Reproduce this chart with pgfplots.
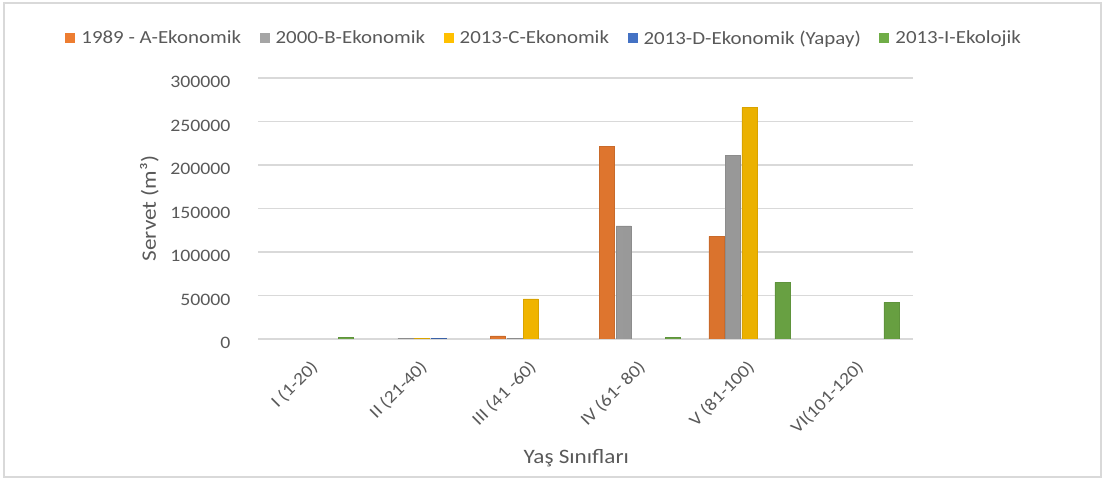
\documentclass[border=0pt]{standalone}
\usepackage{pgfplots}
\pgfplotsset{compat=1.18}
\usepackage{fontspec}
\setmainfont{Carlito}[FakeStretch=1.13]
\definecolor{txt}{HTML}{595959}
\definecolor{grd}{HTML}{D9D9D9}
\definecolor{cA}{HTML}{ED7D31}
\definecolor{cB}{HTML}{A5A5A5}
\definecolor{cC}{HTML}{FFC000}
\definecolor{cD}{HTML}{4472C4}
\definecolor{cE}{HTML}{70AD47}
\pgfplotsset{
  cyl/.style n args={2}{ybar, bar width=15pt, bar shift=#2, draw=#1!85!black, line width=0.5pt,
    left color=#1!95!black, middle color=#1!78!white, right color=#1!92!black},
}
\begin{document}
\begin{tikzpicture}[x=1pt,y=1pt]
\path[use as bounding box] (0,0) rectangle (1107,481);
\draw[grd, line width=1.5pt] (4,4) rectangle (1101,478);
\begin{axis}[
  at={(258pt,142pt)}, anchor=south west,
  scale only axis, width=655pt, height=261pt,
  ymin=0, ymax=300000, xmin=-0.5, xmax=5.5,
  axis line style={draw=none},
  ytick={0,50000,100000,150000,200000,250000,300000},
  scaled y ticks=false,
  yticklabel style={/pgf/number format/fixed, /pgf/number format/1000 sep={}, anchor=east, xshift=-24pt, yshift=-4pt},
  ymajorgrids, grid style={grd, line width=1.2pt},
  major tick length=0pt,
  xtick={0,1,2,3,4,5},
  xticklabels={I (1-20), II (21-40), III (41 -60), IV (61- 80), V (81-100), VI(101-120)},
  xticklabel style={xshift=-3pt, yshift=-15pt, rotate=45, anchor=north east},
  tick label style={font=\fontsize{17.5}{20}\selectfont, text=txt},
  /pgf/number format/assume math mode=true,
  ylabel={Servet (m³)},
  ylabel style={at={(axis description cs:-0.166,0.5)}, anchor=center, font=\fontsize{20.5}{22}\selectfont, text=txt},
  xlabel={Yaş Sınıfları},
  xlabel style={at={(axis description cs:0.486,-0.456)}, anchor=center, font=\fontsize{20.5}{22}\selectfont, text=txt},
  legend columns=5,
  legend style={draw=none, fill=none, at={(axis description cs:0.437,1.153)}, anchor=center,
    font=\fontsize{18.5}{20}\selectfont, text=txt,
    /tikz/every even column/.append style={column sep=16.5pt}},
  legend image code/.code={\fill[#1] (0pt,-5pt) rectangle (10pt,5pt); \path (14pt,0pt);},
]
\addlegendimage{fill=cA, draw=none}
\addlegendentry{1989 - A-Ekonomik}
\addlegendimage{fill=cB, draw=none}
\addlegendentry{2000-B-Ekonomik}
\addlegendimage{fill=cC, draw=none}
\addlegendentry{2013-C-Ekonomik}
\addlegendimage{fill=cD, draw=none}
\addlegendentry{2013-D-Ekonomik (Yapay)}
\addlegendimage{fill=cE, draw=none}
\addlegendentry{2013-I-Ekolojik}

\addplot[cyl={cA}{-33pt}] coordinates {(2,3500) (3,221000) (4,118000)};
\addplot[cyl={cB}{-16.5pt}] coordinates {(1,600) (2,1000) (3,130000) (4,211000)};
\addplot[cyl={cC}{0pt}] coordinates {(1,800) (2,46000) (4,266000)};
\addplot[cyl={cD}{16.5pt}] coordinates {(1,600)};
\addplot[cyl={cE}{33pt}] coordinates {(0,1500) (3,2000) (4,65000) (5,42000)};
\end{axis}
\end{tikzpicture}
\end{document}
